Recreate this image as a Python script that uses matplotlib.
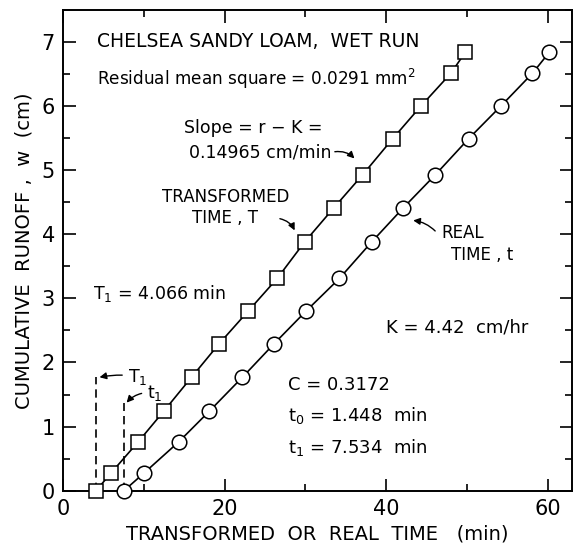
import matplotlib.pyplot as plt
from matplotlib.ticker import MultipleLocator

# cumulative runoff w (cm), same for both series
runoff = [0, 0.28, 0.76, 1.24, 1.77, 2.29, 2.80, 3.31, 3.88, 4.41, 4.93, 5.49, 6.0, 6.51, 6.84]
# transformed time T (min) - squares
trans_time = [4.07, 5.96, 9.28, 12.46, 15.9, 19.3, 22.9, 26.5, 29.9, 33.5, 37.1, 40.8, 44.3, 48.0, 49.8]
# real time t (min) - circles
real_time = [7.53, 10.06, 14.3, 18.1, 22.2, 26.1, 30.06, 34.2, 38.2, 42.1, 46.1, 50.2, 54.2, 58.1, 60.2]

T1 = 4.066
t1 = 7.534

plt.rcParams['font.family'] = 'DejaVu Sans'

fig = plt.figure(figsize=(5.74, 5.48), dpi=100)
ax = fig.add_axes([0.110, 0.1046, 0.8865, 0.8774])

ax.plot(trans_time, runoff, '-', color='black', lw=1.2, marker='s', ms=9.5,
        mfc='white', mec='black', mew=1.1, clip_on=False, zorder=3)
ax.plot(real_time, runoff, '-', color='black', lw=1.2, marker='o', ms=10.5,
        mfc='white', mec='black', mew=1.1, clip_on=False, zorder=3)

# dashed markers for T1 and t1
ax.plot([T1, T1], [0, 1.78], '--', color='black', lw=1.2, dashes=(5, 3))
ax.plot([t1, t1], [0, 1.36], '--', color='black', lw=1.2, dashes=(5, 3))

ax.set_xlim(0, 63)
ax.set_ylim(0, 7.5)
ax.xaxis.set_major_locator(MultipleLocator(20))
ax.xaxis.set_minor_locator(MultipleLocator(10))
ax.yaxis.set_major_locator(MultipleLocator(1))
ax.yaxis.set_minor_locator(MultipleLocator(0.5))
ax.tick_params(which='both', direction='in', top=True, right=True, width=1.2)
ax.tick_params(which='major', length=9, labelsize=15, pad=6)
ax.tick_params(which='minor', length=5)
for s in ax.spines.values():
    s.set_linewidth(1.4)

ax.set_xlabel('TRANSFORMED  OR  REAL  TIME   (min)', fontsize=14, labelpad=4)
ax.set_ylabel('CUMULATIVE  RUNOFF ,  w  (cm)', fontsize=14, labelpad=6)

fs = 12.5
ax.text(4.2, 7.0, 'CHELSEA SANDY LOAM,  WET RUN', fontsize=13.5, va='center')
ax.text(4.2, 6.42, 'Residual mean square = 0.0291 mm$^2$', fontsize=12.2, va='center')
ax.text(15.0, 5.65, 'Slope = r − K =', fontsize=fs, va='center')
ax.text(15.6, 5.28, '0.14965 cm/min', fontsize=fs, va='center')
ax.text(12.2, 4.58, 'TRANSFORMED', fontsize=fs - 0.5, va='center')
ax.text(16.0, 4.25, 'TIME , T', fontsize=fs - 0.5, va='center')
ax.text(46.8, 4.02, 'REAL', fontsize=fs - 0.5, va='center')
ax.text(48.0, 3.67, 'TIME , t', fontsize=fs - 0.5, va='center')
ax.text(3.7, 3.08, 'T$_1$ = 4.066 min', fontsize=fs, va='center')
ax.text(40.0, 2.55, 'K = 4.42  cm/hr', fontsize=fs + 0.5, va='center')
ax.text(27.8, 1.65, 'C = 0.3172', fontsize=fs + 0.5, va='center')
ax.text(27.8, 1.18, 't$_0$ = 1.448  min', fontsize=fs + 0.5, va='center')
ax.text(27.8, 0.67, 't$_1$ = 7.534  min', fontsize=fs + 0.5, va='center')

arrow = dict(arrowstyle='-|>', color='black', lw=1.0, mutation_scale=10)
ax.annotate('', xy=(36.3, 5.15), xytext=(33.3, 5.28),
            arrowprops=dict(arrow, connectionstyle='arc3,rad=-0.3'))
ax.annotate('', xy=(28.8, 4.02), xytext=(26.5, 4.25),
            arrowprops=dict(arrow, connectionstyle='arc3,rad=-0.3'))
ax.annotate('', xy=(43.0, 4.22), xytext=(46.3, 4.02),
            arrowprops=dict(arrow, connectionstyle='arc3,rad=0.2'))
ax.annotate('T$_1$', xy=(T1 + 0.1, 1.76), xytext=(8.0, 1.78), fontsize=fs, va='center',
            arrowprops=dict(arrow, connectionstyle='arc3,rad=0.1'))
ax.annotate('t$_1$', xy=(t1 + 0.1, 1.34), xytext=(10.4, 1.52), fontsize=fs, va='center',
            arrowprops=dict(arrow, connectionstyle='arc3,rad=0.3'))

fig.savefig('out.png', dpi=100)
